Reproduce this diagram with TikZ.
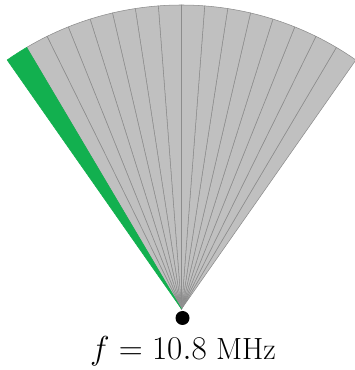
\documentclass[tikz,border=0pt]{standalone}
\usepackage{xcolor}
\usepackage{tikz}
\usetikzlibrary{positioning}
\definecolor{beamgray}{HTML}{C0C0C0}
\definecolor{edgegray}{HTML}{8C8C8C}
\definecolor{beamgreen}{HTML}{12B04F}

\begin{document}
\begin{tikzpicture}[x=0.75pt, y=0.75pt,
    beam/.style={fill=beamgray, draw=edgegray, line width=0.4pt, line join=round},
    hotbeam/.style={fill=beamgreen, draw=beamgreen, line width=0.4pt, line join=round}]
  \useasboundingbox (0,0) rectangle (354,370);
  \coordinate (apex) at (181.5,61);
  % fan of 16 beams, the left one lit
  \foreach \i in {0,...,15}{
    \pgfmathsetmacro{\a}{55+4.375*\i}
    \ifnum\i=15
      \filldraw[hotbeam] (apex) -- ++(\a:304) arc[start angle=\a, end angle=\a+4.375, radius=304] -- cycle;
    \else
      \filldraw[beam] (apex) -- ++(\a:304) arc[start angle=\a, end angle=\a+4.375, radius=304] -- cycle;
    \fi
  }
  \node[circle, fill=black, inner sep=0pt, minimum size=10.5pt] (feed) at (182.5,52) {};
  \node[anchor=base, font=\fontsize{23}{28}\selectfont] (freq) at (183,10) {$f = 10.8$ MHz};
\end{tikzpicture}
\end{document}
